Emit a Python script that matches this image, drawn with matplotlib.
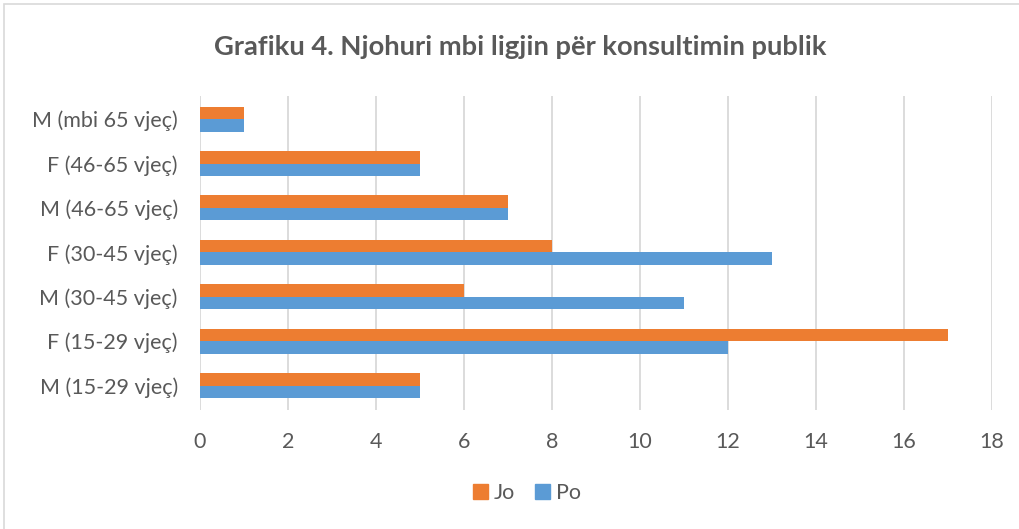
import matplotlib.pyplot as plt
import matplotlib.patches as mpatches
import numpy as np

categories = ['M (15-29 vjeç)', 'F (15-29 vjeç)', 'M (30-45 vjeç)', 'F (30-45 vjeç)',
              'M (46-65 vjeç)', 'F (46-65 vjeç)', 'M (mbi 65 vjeç)']
jo = [5, 17, 6, 8, 7, 5, 1]
po = [5, 12, 11, 13, 7, 5, 1]
xticks = [0, 2, 4, 6, 8, 10, 12, 14, 16, 18]

plt.rcParams['font.family'] = ['Lato', 'DejaVu Sans']
text_col = '#595959'

fig = plt.figure(figsize=(10.2, 5.29), dpi=100)
ax = fig.add_axes([200 / 1020, 1 - 410 / 529, 792 / 1020, 314 / 529])

y = np.arange(len(categories))
h = 0.28
ax.barh(y + h / 2, jo, height=h, color='#ED7D31', label='Jo', zorder=3)
ax.barh(y - h / 2, po, height=h, color='#5B9BD5', label='Po', zorder=3)

ax.set_xlim(0, 18)
ax.set_ylim(-0.55, 6.52)
ax.set_xticks(xticks)
ax.set_yticks(y)
ax.set_yticklabels(categories)
ax.tick_params(axis='both', length=0, labelsize=15.5, colors=text_col)
ax.tick_params(axis='x', pad=16)
ax.tick_params(axis='y', pad=16)
ax.grid(axis='x', color='#D9D9D9', linewidth=1.3, zorder=0)
for s in ax.spines.values():
    s.set_visible(False)

fig.text(520 / 1020, 1 - 47 / 529, 'Grafiku 4. Njohuri mbi ligjin për konsultimin publik',
         ha='center', va='center', fontsize=19.7, fontweight='bold', color=text_col)

handles = [mpatches.Patch(color='#ED7D31', label='Jo'), mpatches.Patch(color='#5B9BD5', label='Po')]
fig.legend(handles=handles, loc='center', bbox_to_anchor=(527 / 1020, 1 - 493 / 529), ncol=2,
           frameon=False, fontsize=15.5, handlelength=0.7, handleheight=0.7,
           handletextpad=0.3, columnspacing=0.9, labelcolor=text_col)

fig.patches.append(mpatches.Rectangle((4 / 1020, -0.01), 1.02, 1 - 4 / 529 + 0.01,
                                      transform=fig.transFigure, fill=False,
                                      edgecolor='#D9D9D9', linewidth=1.2))

fig.savefig('out.png', dpi=100)
